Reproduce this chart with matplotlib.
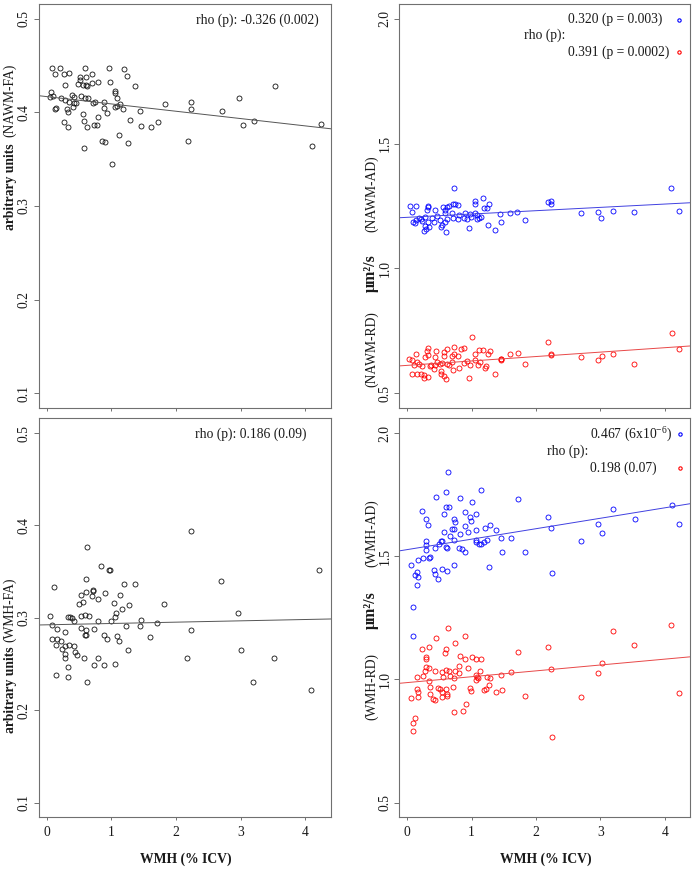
import matplotlib
matplotlib.use('Agg')
import matplotlib.pyplot as plt

plt.rcParams['font.family'] = ['Liberation Serif', 'DejaVu Serif']
plt.rcParams['mathtext.fontset'] = 'custom'
plt.rcParams['mathtext.rm'] = 'Liberation Serif'

# NAWM-FA vs WMH (top left)
nawm_fa_x = [0.077, 0.212, 0.599, 0.965, 1.202, 0.134, 0.268, 0.341, 0.707, 0.521,
             0.609, 1.238, 0.516, 0.800, 0.980, 0.702, 0.480, 0.279, 0.562, 0.609,
             0.630, 1.367, 1.053, 1.058, 0.072, 0.046, 0.103, 0.222, 0.289, 0.392,
             0.423, 0.537, 0.593, 0.640, 1.084, 0.341, 0.428, 0.459, 0.717, 0.748,
             0.893, 1.140, 1.084, 1.053, 1.827, 2.239, 2.967, 3.535, 0.134, 0.150,
             0.315, 0.888, 1.176, 1.450, 2.234, 2.704, 0.335, 0.413, 0.562, 0.795,
             0.939, 0.273, 0.325, 0.583, 0.630, 0.733, 0.784, 1.285, 1.465, 1.610,
             1.718, 3.029, 3.199, 4.236, 0.851, 0.903, 1.120, 1.259, 2.188, 0.583,
             4.107, 1.006]
nawm_fa_y = [0.448, 0.448, 0.448, 0.448, 0.447, 0.441, 0.441, 0.442, 0.441, 0.438,
             0.438, 0.439, 0.435, 0.433, 0.433, 0.432, 0.430, 0.429, 0.429, 0.429,
             0.428, 0.428, 0.423, 0.421, 0.422, 0.417, 0.418, 0.415, 0.413, 0.419,
             0.417, 0.418, 0.415, 0.415, 0.416, 0.411, 0.410, 0.410, 0.410, 0.411,
             0.411, 0.409, 0.407, 0.406, 0.409, 0.411, 0.416, 0.428, 0.404, 0.405,
             0.404, 0.405, 0.404, 0.402, 0.404, 0.402, 0.400, 0.406, 0.398, 0.395,
             0.399, 0.390, 0.385, 0.391, 0.385, 0.387, 0.387, 0.392, 0.386, 0.384,
             0.390, 0.387, 0.391, 0.388, 0.369, 0.368, 0.376, 0.367, 0.370, 0.362,
             0.364, 0.345]

# NAWM-AD (blue) and NAWM-RD (red), top right
nawm_ad_x = [0.729, 4.099, 0.037, 0.140, 0.068, 0.316, 0.326, 0.310, 0.429, 0.558,
             0.610, 0.641, 0.703, 0.744, 0.791, 0.584, 1.044, 1.054, 1.168, 1.271,
             1.194, 1.235, 2.181, 2.233, 2.233, 0.176, 0.233, 0.140, 0.093, 0.124,
             0.212, 0.269, 0.320, 0.383, 0.419, 0.460, 0.507, 0.538, 0.522, 0.579,
             0.620, 0.589, 0.692, 0.713, 0.791, 0.796, 0.894, 0.879, 0.930, 0.977,
             1.044, 1.085, 1.111, 1.137, 1.085, 0.992, 0.274, 0.289, 0.264, 0.336,
             0.594, 0.961, 1.251, 1.364, 1.457, 1.442, 1.602, 1.710, 1.824, 2.693,
             2.962, 3.008, 3.195, 3.525, 4.223]
nawm_ad_y = [1.324, 1.324, 1.252, 1.248, 1.226, 1.252, 1.244, 1.233, 1.232, 1.244,
             1.247, 1.249, 1.257, 1.260, 1.256, 1.233, 1.269, 1.257, 1.282, 1.257,
             1.241, 1.241, 1.268, 1.269, 1.257, 1.200, 1.191, 1.193, 1.187, 1.180,
             1.197, 1.204, 1.186, 1.201, 1.186, 1.211, 1.192, 1.173, 1.166, 1.186,
             1.199, 1.220, 1.221, 1.203, 1.196, 1.213, 1.221, 1.201, 1.196, 1.219,
             1.221, 1.213, 1.200, 1.206, 1.196, 1.205, 1.169, 1.157, 1.150, 1.165,
             1.146, 1.161, 1.175, 1.153, 1.184, 1.216, 1.220, 1.226, 1.193, 1.220,
             1.224, 1.201, 1.229, 1.226, 1.228]
nawm_rd_x = [0.998, 2.181, 4.104, 4.223, 0.316, 0.311, 0.621, 0.719, 0.838, 0.884,
             1.111, 1.168, 1.282, 0.450, 0.563, 0.140, 0.269, 0.326, 0.424, 0.574,
             0.698, 0.724, 0.786, 1.044, 1.256, 1.447, 1.462, 1.602, 1.716, 2.233,
             2.233, 2.698, 3.018, 2.962, 3.194, 3.519, 0.021, 0.078, 0.098, 0.150,
             0.176, 0.227, 0.372, 0.424, 0.460, 0.501, 0.543, 0.615, 0.641, 0.693,
             0.796, 0.884, 0.925, 0.977, 1.054, 1.095, 1.132, 1.199, 1.220, 1.447,
             1.824, 0.078, 0.150, 0.212, 0.264, 0.326, 0.264, 0.522, 0.574, 0.605,
             0.527, 0.708, 0.961, 1.364, 0.408, 0.346]
nawm_rd_y = [0.724, 0.706, 0.741, 0.677, 0.681, 0.669, 0.677, 0.684, 0.678, 0.680,
             0.672, 0.672, 0.670, 0.668, 0.665, 0.657, 0.646, 0.654, 0.643, 0.650,
             0.647, 0.657, 0.647, 0.655, 0.657, 0.637, 0.637, 0.658, 0.662, 0.657,
             0.652, 0.643, 0.650, 0.631, 0.658, 0.618, 0.635, 0.631, 0.614, 0.626,
             0.615, 0.609, 0.612, 0.612, 0.625, 0.618, 0.622, 0.618, 0.612, 0.624,
             0.601, 0.622, 0.627, 0.612, 0.631, 0.612, 0.624, 0.602, 0.607, 0.632,
             0.616, 0.575, 0.575, 0.576, 0.560, 0.564, 0.572, 0.578, 0.567, 0.555,
             0.588, 0.594, 0.562, 0.575, 0.598, 0.609]

# WMH-FA vs WMH (bottom left)
wmh_fa_x = [0.846, 0.970, 0.980, 4.205, 0.604, 0.113, 1.202, 1.367, 2.688, 0.722,
            0.712, 0.609, 0.537, 0.702, 0.898, 0.800, 1.135, 0.568, 0.496, 1.047,
            1.279, 1.821, 1.171, 1.073, 0.051, 0.335, 0.361, 0.397, 0.531, 0.593,
            0.655, 1.057, 2.951, 0.423, 0.800, 1.001, 1.460, 1.713, 0.077, 0.154,
            0.526, 0.609, 0.738, 1.233, 1.445, 2.224, 0.284, 0.599, 0.604, 0.893,
            1.088, 0.939, 1.114, 1.604, 0.087, 0.165, 0.222, 0.139, 0.279, 0.346,
            0.428, 0.232, 1.253, 3.003, 0.279, 0.444, 0.475, 0.279, 0.573, 0.789,
            2.177, 3.514, 0.738, 0.893, 1.057, 0.325, 0.149, 0.330, 0.630, 3.183,
            4.086, 2.229, 0.629]
wmh_fa_y = [0.356, 0.352, 0.352, 0.352, 0.342, 0.333, 0.337, 0.337, 0.340, 0.330,
            0.329, 0.328, 0.325, 0.324, 0.327, 0.320, 0.325, 0.317, 0.315, 0.316,
            0.314, 0.315, 0.310, 0.305, 0.302, 0.301, 0.301, 0.300, 0.302, 0.303,
            0.302, 0.301, 0.305, 0.297, 0.296, 0.296, 0.298, 0.294, 0.292, 0.288,
            0.289, 0.287, 0.288, 0.291, 0.291, 0.287, 0.285, 0.281, 0.281, 0.281,
            0.280, 0.277, 0.275, 0.279, 0.277, 0.277, 0.275, 0.271, 0.270, 0.271,
            0.270, 0.266, 0.265, 0.265, 0.261, 0.263, 0.260, 0.257, 0.257, 0.257,
            0.256, 0.256, 0.249, 0.249, 0.250, 0.247, 0.238, 0.236, 0.231, 0.230,
            0.222, 0.394, 0.377]

# WMH-AD (blue) and WMH-RD (red), bottom right
wmh_ad_x = [0.632, 1.147, 0.606, 0.445, 0.812, 1.008, 1.721, 0.606, 0.642, 4.104,
            3.194, 0.228, 0.895, 1.060, 0.569, 0.972, 0.290, 0.719, 0.993, 0.745,
            2.187, 3.530, 0.326, 0.895, 1.287, 4.223, 2.966, 0.698, 0.729, 1.070,
            1.205, 1.370, 2.233, 0.574, 0.812, 0.946, 0.657, 3.018, 0.295, 0.517,
            0.543, 0.719, 1.060, 1.070, 1.106, 1.137, 1.184, 1.241, 1.453, 1.612,
            2.703, 0.491, 0.290, 0.595, 0.615, 0.796, 0.853, 0.900, 0.290, 0.434,
            1.468, 1.835, 0.347, 0.331, 0.248, 0.160, 0.052, 0.729, 1.266, 0.409,
            0.543, 0.615, 0.150, 0.119, 0.171, 0.429, 0.481, 2.244, 0.145, 0.088,
            0.088]
wmh_ad_y = [1.841, 1.770, 1.761, 1.739, 1.736, 1.720, 1.734, 1.701, 1.701, 1.708,
            1.692, 1.684, 1.679, 1.672, 1.672, 1.658, 1.652, 1.652, 1.645, 1.639,
            1.660, 1.653, 1.625, 1.622, 1.625, 1.629, 1.631, 1.611, 1.611, 1.607,
            1.614, 1.606, 1.614, 1.600, 1.592, 1.600, 1.584, 1.595, 1.563, 1.560,
            1.563, 1.567, 1.567, 1.557, 1.551, 1.551, 1.557, 1.564, 1.575, 1.572,
            1.563, 1.551, 1.545, 1.536, 1.532, 1.532, 1.529, 1.517, 1.526, 1.532,
            1.518, 1.516, 1.495, 1.493, 1.491, 1.483, 1.466, 1.463, 1.458, 1.443,
            1.447, 1.439, 1.436, 1.423, 1.417, 1.427, 1.409, 1.431, 1.382, 1.295,
            1.175]
wmh_rd_x = [0.636, 0.895, 4.099, 3.194, 3.525, 0.450, 0.745, 0.223, 0.331, 0.600,
            0.584, 1.722, 2.192, 0.290, 0.285, 0.812, 0.899, 1.008, 1.065, 1.142,
            3.019, 0.290, 0.336, 0.274, 0.434, 0.533, 0.605, 0.641, 0.744, 0.801,
            0.945, 1.122, 1.612, 2.233, 2.967, 0.155, 0.238, 0.558, 0.662, 0.719,
            0.806, 1.060, 1.081, 1.096, 1.060, 1.230, 1.287, 1.457, 0.341, 0.351,
            0.480, 0.501, 0.600, 0.713, 0.972, 0.987, 1.184, 1.215, 1.266, 1.370,
            1.468, 0.155, 0.160, 0.160, 0.052, 0.351, 0.543, 0.620, 0.543, 0.620,
            0.403, 0.429, 1.830, 2.698, 4.223, 0.905, 0.729, 0.858, 0.119, 0.083,
            0.088, 2.243]
wmh_rd_y = [1.209, 1.178, 1.221, 1.197, 1.141, 1.166, 1.148, 1.124, 1.132, 1.124,
            1.109, 1.112, 1.132, 1.092, 1.083, 1.094, 1.081, 1.092, 1.081, 1.083,
            1.067, 1.051, 1.048, 1.036, 1.036, 1.031, 1.038, 1.035, 1.032, 1.054,
            1.048, 1.036, 1.031, 1.043, 1.027, 1.011, 1.015, 1.011, 1.013, 1.004,
            1.024, 1.018, 1.011, 1.004, 0.997, 1.009, 1.007, 1.016, 0.993, 0.970,
            0.965, 0.962, 0.962, 0.970, 0.966, 0.953, 0.957, 0.962, 0.977, 0.950,
            0.958, 0.962, 0.949, 0.929, 0.926, 0.941, 0.947, 0.942, 0.930, 0.933,
            0.922, 0.915, 0.933, 0.929, 0.945, 0.900, 0.868, 0.872, 0.842, 0.822,
            0.789, 0.768]

# fitted lines (intercept, slope)
nawm_fa_fit = [0.417, -0.00784]
nawm_ad_fit = [1.2046, 0.0133]
nawm_rd_fit = [0.611, 0.0177]
wmh_fa_fit = [0.2924, 0.00144]
wmh_ad_fit = [1.527, 0.0424]
wmh_rd_fit = [0.987, 0.0238]

x_ticks = [0, 1, 2, 3, 4]
fa_ticks = [0.1, 0.2, 0.3, 0.4, 0.5]
diff_ticks = [0.5, 1.0, 1.5, 2.0]

W, H = 694, 869
FS = 9.8
FRAME = '#707070'
TXT = '#1a1a1a'


def fx(px):
    return px / W


def fy(py):
    return 1 - py / H


fig = plt.figure(figsize=(W / 100, H / 100), dpi=100)


def make_axes(left, top, right, bottom, ylim, yticks, ylabels, show_x):
    ax = fig.add_axes([fx(left), fy(bottom), fx(right) - fx(left), fy(top) - fy(bottom)])
    ax.set_xlim(-0.125, 4.395)
    ax.set_ylim(*ylim)
    ax.set_xticks(x_ticks)
    ax.set_yticks(yticks)
    ax.set_yticklabels(ylabels, rotation=90, va='center')
    for s in ax.spines.values():
        s.set_color(FRAME)
        s.set_linewidth(0.8)
    ax.tick_params(axis='x', direction='out', length=2.5, width=0.7, color=FRAME,
                   labelsize=FS, labelcolor=TXT, pad=4, labelbottom=show_x)
    ax.tick_params(axis='y', direction='out', length=3.6, width=0.7, color=FRAME,
                   labelsize=FS, labelcolor=TXT, pad=2)
    return ax


def scatter(ax, x, y, color):
    ax.plot(x, y, 'o', linestyle='none', markersize=3.6, markerfacecolor='none',
            markeredgecolor=color, markeredgewidth=0.6)


def fit_line(ax, fit, color):
    ax.axline((0, fit[0]), slope=fit[1], color=color, linewidth=0.7)


fa_lab = ['0.1', '0.2', '0.3', '0.4', '0.5']
diff_lab = ['0.5', '1.0', '1.5', '2.0']

ax_tl = make_axes(38.5, 4, 331, 408, (0.084, 0.516), fa_ticks, fa_lab, False)
ax_tr = make_axes(399.3, 4, 690.3, 408, (0.44, 2.06), diff_ticks, diff_lab, False)
ax_bl = make_axes(38.5, 418.3, 331, 817.3, (0.084, 0.516), fa_ticks, fa_lab, True)
ax_br = make_axes(399.3, 418.3, 690.3, 817.3, (0.44, 2.06), diff_ticks, diff_lab, True)

scatter(ax_tl, nawm_fa_x, nawm_fa_y, '#111111')
fit_line(ax_tl, nawm_fa_fit, '#555555')
scatter(ax_tr, nawm_ad_x, nawm_ad_y, 'blue')
scatter(ax_tr, nawm_rd_x, nawm_rd_y, 'red')
fit_line(ax_tr, nawm_ad_fit, '#4040e0')
fit_line(ax_tr, nawm_rd_fit, '#e84848')
scatter(ax_bl, wmh_fa_x, wmh_fa_y, '#111111')
fit_line(ax_bl, wmh_fa_fit, '#555555')
scatter(ax_br, wmh_ad_x, wmh_ad_y, 'blue')
scatter(ax_br, wmh_rd_x, wmh_rd_y, 'red')
fit_line(ax_br, wmh_ad_fit, '#4040e0')
fit_line(ax_br, wmh_rd_fit, '#e84848')


def ftext(px, py, s, **kw):
    kw.setdefault('fontsize', FS)
    kw.setdefault('color', TXT)
    fig.text(fx(px), fy(py), s, **kw)


def key_dot(px, py, color):
    fig.add_artist(plt.Line2D([fx(px)], [fy(py)], marker='o', linestyle='none',
                              markersize=2.4, markerfacecolor='none',
                              markeredgecolor=color, markeredgewidth=0.8))


# correlation annotations
ftext(318.3, 20, 'rho (p): -0.326 (0.002)', ha='right', va='center')
ftext(306.7, 434, 'rho (p): 0.186 (0.09)', ha='right', va='center')

ftext(568, 19.5, '0.320 (p = 0.003)', ha='left', va='center')
ftext(523.7, 35.7, 'rho (p):', ha='left', va='center')
ftext(568, 52.3, '0.391 (p = 0.0002)', ha='left', va='center')
key_dot(679, 19.5, 'blue')
key_dot(679, 52.3, 'red')

ftext(590, 434, '0.467 (6x10$^{-6}$)', ha='left', va='center')
ftext(546.7, 451, 'rho (p):', ha='left', va='center')
ftext(590, 468, '0.198 (0.07)', ha='left', va='center')
key_dot(680, 434, 'blue')
key_dot(680, 468, 'red')

# axis titles
ftext(11, 186.5, 'arbitrary units', rotation=90, ha='center', va='center', fontweight='bold')
ftext(10, 100.5, '(NAWM-FA)', rotation=90, ha='center', va='center')
ftext(11, 690, 'arbitrary units', rotation=90, ha='center', va='center', fontweight='bold')
ftext(10, 610, '(WMH-FA)', rotation=90, ha='center', va='center')

ftext(372, 194, '(NAWM-AD)', rotation=90, ha='center', va='center')
ftext(371, 273, 'μm²/s', rotation=90, ha='center', va='center', fontweight='bold', fontsize=11.5)
ftext(372, 349.5, '(NAWM-RD)', rotation=90, ha='center', va='center')
ftext(372, 533.5, '(WMH-AD)', rotation=90, ha='center', va='center')
ftext(371, 610, 'μm²/s', rotation=90, ha='center', va='center', fontweight='bold', fontsize=11.5)
ftext(372, 686.5, '(WMH-RD)', rotation=90, ha='center', va='center')

ftext(186, 859, 'WMH (% ICV)', ha='center', va='center', fontweight='bold')
ftext(546, 859, 'WMH (% ICV)', ha='center', va='center', fontweight='bold')

fig.savefig('out.png', dpi=100, facecolor='white')
